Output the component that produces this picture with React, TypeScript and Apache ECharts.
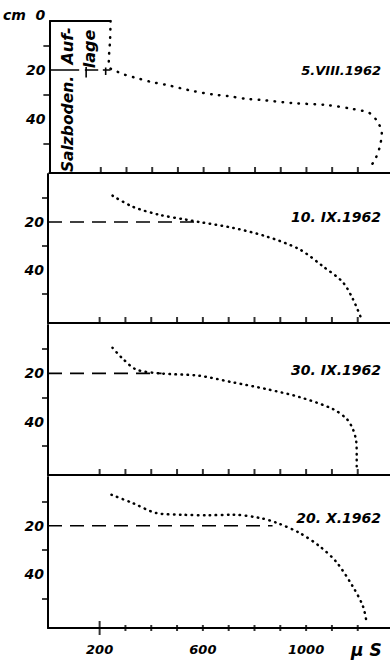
import React, { useEffect, useRef } from "react";
import * as echarts from "echarts";

// Panel titles (sampling dates)
const panelDates = ["5.VIII.1962", "10. IX.1962", "30. IX.1962", "20. X.1962"];

// 5.VIII.1962 profile: conductivity (µS) vs depth (cm)
const aug5Us = [238, 236, 232, 231, 238, 258, 290, 330, 394, 452, 510, 560, 638, 692, 769, 820, 948, 1080, 1180, 1246, 1277, 1293, 1285, 1266, 1243];
const aug5Cm = [0, 8, 14, 17.5, 19.4, 20.4, 21.8, 23, 24.8, 26, 27.4, 28.6, 30, 30.6, 31.8, 32.2, 33.5, 34.3, 35.9, 37.6, 41.2, 45.7, 51.4, 56.7, 60];

// 10.IX.1962 profile
const sep10Us = [250, 328, 432, 536, 587, 716, 847, 975, 1065, 1142, 1181, 1215];
const sep10Cm = [9, 13.6, 17, 19, 20, 22.4, 26, 31.4, 38.4, 45, 52, 60.5];

// 30.IX.1962 profile
const sep30Us = [250, 290, 342, 432, 587, 716, 847, 975, 1103, 1157, 1181, 1194, 1196, 1196];
const sep30Cm = [9.4, 14, 18.4, 20, 21, 23.7, 26.5, 29.8, 34.7, 38.8, 43, 48, 54, 59];

// 20.X.1962 profile
const oct20Us = [246, 328, 420, 522, 620, 716, 820, 886, 975, 1053, 1118, 1181, 1220, 1235];
const oct20Cm = [7.3, 10.7, 14.8, 15.5, 15.7, 15.5, 16.8, 18.8, 23, 28.5, 35, 45, 53, 60];

// Boundary Auflage / Salzboden (20 cm) extent in each panel (µS)
const boundaryDepth = 20;
const boundaryEnd = [238, 568, 440, 870];

// Axis ticks
const xTickValues = [200, 300, 400, 500, 600, 700, 800, 900, 1000, 1100, 1200];
const xLabelValues = [200, 600, 1000];
const yTickValues = [10, 30, 50];
const yLabelValues = [20, 40];
const yLabelValuesTop = [0, 20, 40];
const depthMax = 62;

const zip = (xs: number[], ys: number[]) => xs.map((x, i) => [x, ys[i]]);

const FONT = "DejaVu Sans";

export default function App() {
  const ref = useRef<HTMLDivElement>(null);

  useEffect(() => {
    if (!ref.current) return;
    const chart = echarts.init(ref.current, null, { renderer: "svg" });

    const grids = [
      { left: 48, right: 0, top: 21, height: 152 },
      { left: 48, right: 0, top: 174, height: 149 },
      { left: 48, right: 0, top: 325, height: 150 },
      { left: 48, right: 0, top: 477, height: 151 },
    ];

    const labelFont = {
      color: "#000",
      fontFamily: FONT,
      fontWeight: "bold" as const,
      fontStyle: "italic" as const,
      fontSize: 13,
    };

    const xAxes = grids.map((_, i) => ({
      type: "value",
      gridIndex: i,
      min: 0,
      max: 1325,
      axisLine: { show: true, onZero: false, lineStyle: { color: "#000", width: 2 } },
      axisTick: { show: false },
      axisLabel: {
        show: i === 3,
        customValues: xLabelValues,
        margin: 15,
        ...labelFont,
        fontSize: 13,
        formatter: (v: number) => String(v),
      },
      splitLine: { show: false },
    }));

    const yAxes = grids.map((_, i) => ({
      type: "value",
      gridIndex: i,
      inverse: true,
      min: 0,
      max: depthMax,
      axisLine: { show: true, onZero: false, lineStyle: { color: "#000", width: 2 } },
      axisTick: {
        show: true,
        length: 6,
        customValues: yTickValues,
        lineStyle: { color: "#000", width: 1.5 },
      },
      axisLabel: {
        show: true,
        customValues: i === 0 ? yLabelValuesTop : yLabelValues,
        margin: 4,
        ...labelFont,
        fontSize: 14,
        formatter: (v: number) => (v === 0 ? "{top|cm  0}" : String(v)),
        rich: {
          top: {
            ...labelFont,
            fontSize: 14,
            padding: [0, 0, 13, 0],
          },
        },
      },
      splitLine: { show: false },
    }));

    const dotted = (gap: number) => ({
      color: "#000",
      width: 2.5,
      type: [0.5, gap],
      cap: "round",
    });

    const profiles = [
      zip(aug5Us, aug5Cm),
      zip(sep10Us, sep10Cm),
      zip(sep30Us, sep30Cm),
      zip(oct20Us, oct20Cm),
    ];

    const series: any[] = [];
    profiles.forEach((data, i) => {
      series.push({
        type: "line",
        xAxisIndex: i,
        yAxisIndex: i,
        data,
        smooth: 0.3,
        showSymbol: false,
        silent: true,
        lineStyle: dotted(i === 0 ? 7.5 : 5.5),
      });
      if (i > 0) {
        series.push({
          type: "line",
          xAxisIndex: i,
          yAxisIndex: i,
          data: [
            [0, boundaryDepth],
            [boundaryEnd[i], boundaryDepth],
          ],
          showSymbol: false,
          silent: true,
          lineStyle: { color: "#000", width: 1.6, type: [14, 8] },
        });
      }
      // x-axis tick marks (pointing up into the panel)
      series.push({
        type: "scatter",
        xAxisIndex: i,
        yAxisIndex: i,
        data: xTickValues.map((v) => [v, depthMax]),
        symbol: "rect",
        symbolSize: (val: number[]) => (val[0] === 200 && i === 3 ? [2, 14] : [2, 6]),
        symbolOffset: i === 3 ? undefined : [0, -3],
        itemStyle: { color: "#000" },
        silent: true,
        clip: false,
        z: 5,
      });
    });

    // Panel 1: surface line and the Auflage/Salzboden boundary
    series.push({
      type: "line",
      xAxisIndex: 0,
      yAxisIndex: 0,
      data: [
        [0, 0],
        [aug5Us[0], 0],
      ],
      showSymbol: false,
      silent: true,
      lineStyle: { color: "#000", width: 2 },
    });
    series.push({
      type: "line",
      xAxisIndex: 0,
      yAxisIndex: 0,
      data: [
        [0, boundaryDepth],
        [116, boundaryDepth],
        "-",
        [138, boundaryDepth],
        [190, boundaryDepth],
        "-",
        [208, boundaryDepth],
        [boundaryEnd[0], boundaryDepth],
        "-",
        [143, 18.8],
        [143, 23],
        "-",
        [219, 19],
        [219, 22],
      ],
      connectNulls: false,
      showSymbol: false,
      silent: true,
      lineStyle: { color: "#000", width: 1.6 },
    });

    const titleY = [70, 217, 370, 518];
    const textStyle = {
      fill: "#000",
      fontFamily: FONT,
      fontWeight: "bold",
      fontStyle: "italic",
    };

    const graphic: any[] = panelDates.map((t, i) => ({
      type: "text",
      x: 381,
      y: titleY[i],
      style: {
        ...textStyle,
        text: t,
        fontSize: i === 0 ? 13 : 14,
        align: "right",
        verticalAlign: "middle",
      },
    }));
    graphic.push(
      {
        type: "text",
        x: 67,
        y: 46,
        rotation: Math.PI / 2,
        style: { ...textStyle, text: "Auf-", fontSize: 16, align: "center", verticalAlign: "middle" },
      },
      {
        type: "text",
        x: 89,
        y: 49,
        rotation: Math.PI / 2,
        style: { ...textStyle, text: "lage", fontSize: 16, align: "center", verticalAlign: "middle" },
      },
      {
        type: "text",
        x: 68,
        y: 124,
        rotation: Math.PI / 2,
        style: { ...textStyle, text: "Salzboden.", fontSize: 15.5, align: "center", verticalAlign: "middle" },
      },
      {
        type: "text",
        x: 351,
        y: 650,
        style: { ...textStyle, text: "μ S", fontSize: 17, align: "left", verticalAlign: "middle" },
      }
    );

    chart.setOption({
      animation: false,
      backgroundColor: "#fff",
      grid: grids,
      xAxis: xAxes,
      yAxis: yAxes,
      series,
      graphic,
    });

    return () => chart.dispose();
  }, []);

  return (
    <div
      ref={ref}
      style={{ position: "fixed", left: 0, top: 0, width: 390, height: 661, background: "#fff" }}
    />
  );
}
